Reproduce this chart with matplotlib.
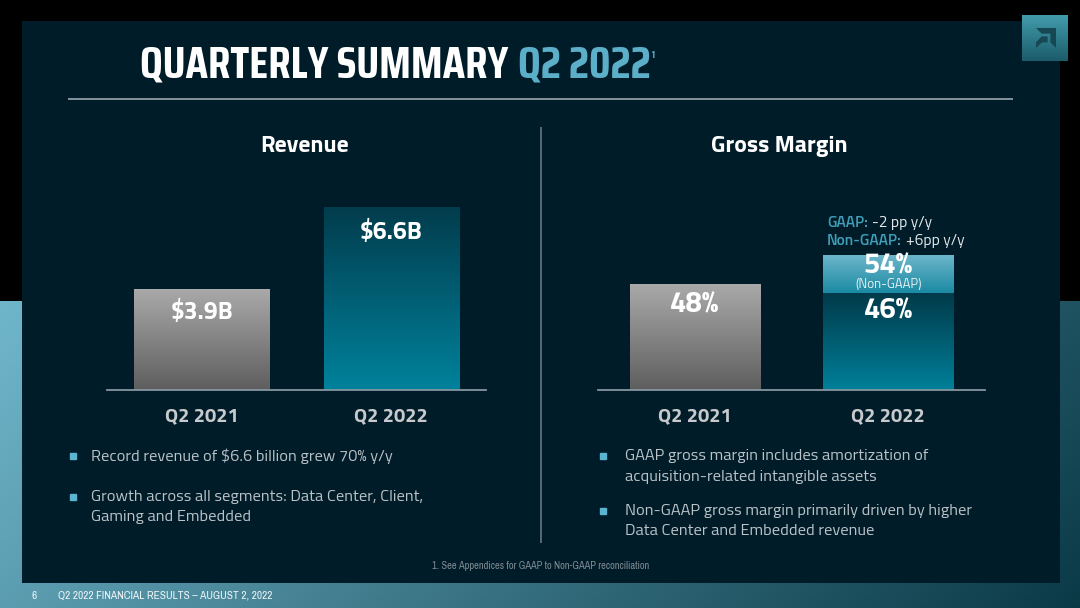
import numpy as np
import matplotlib
matplotlib.use('Agg')
import matplotlib.pyplot as plt
from matplotlib import font_manager as fm
from matplotlib.colors import to_rgb
from matplotlib.patches import Rectangle, Polygon

# ---------------- data ----------------
title_main = 'QUARTERLY SUMMARY'
title_period = 'Q2 2022'
title_note = '1'
rev_title = 'Revenue'
gm_title = 'Gross Margin'
categories = ['Q2 2021', 'Q2 2022']
revenue = [3.9, 6.6]
revenue_labels = ['$3.9B', '$6.6B']
gm_gaap = [48, 46]
gm_gaap_labels = ['48%', '46%']
gm_nongaap = 54
gm_nongaap_label = '54%'
gm_nongaap_note = '(Non-GAAP)'
gm_change_keys = ['GAAP:', 'Non-GAAP:']
gm_change_vals = ['-2 pp y/y', '+6pp y/y']
rev_bullets = [['Record revenue of $6.6 billion grew 70% y/y'],
               ['Growth across all segments: Data Center, Client,', 'Gaming and Embedded']]
gm_bullets = [['GAAP gross margin includes amortization of', 'acquisition-related intangible assets'],
              ['Non-GAAP gross margin primarily driven by higher', 'Data Center and Embedded revenue']]
footnote = '1. See Appendices for GAAP to Non-GAAP reconciliation'
page_number = '6'
footer = 'Q2 2022 FINANCIAL RESULTS \u2013 AUGUST 2, 2022'

# ---------------- fonts ----------------
_avail = {f.name for f in fm.fontManager.ttflist}


def pick(cands):
    fam = [c for c in cands if c in _avail]
    return fam[:1] + ['Roboto', 'DejaVu Sans']


TITLE = pick(['Saira Semi Condensed', 'Saira Condensed', 'Barlow Semi Condensed', 'Roboto Condensed'])
BODY = pick(['Saira Semi Condensed', 'Titillium Web', 'Barlow Semi Condensed', 'Roboto'])
NARROW = pick(['Liberation Sans Narrow', 'Archivo Narrow', 'Arimo', 'Roboto'])
plt.rcParams['font.family'] = BODY

W, H = 1080, 608
fig = plt.figure(figsize=(W / 100, H / 100), dpi=100)
fig.patch.set_facecolor('black')
renderer = fig.canvas.get_renderer()

bg = fig.add_axes([0, 0, 1, 1])
bg.axis('off')


def vgrad(c_top, c_bot, n=256):
    return np.linspace(to_rgb(c_top), to_rgb(c_bot), n).reshape(n, 1, 3)


def fit_size(txt, target, family, weight='normal', base=12.0):
    tt = fig.text(0, 0, txt, fontsize=base, family=family, weight=weight)
    w = tt.get_window_extent(renderer).width
    tt.remove()
    return base * target / w


# bottom band gradient (light blue -> dark teal)
yy, xx = np.mgrid[301:H, 0:W:4]
t = np.clip(0.8 * xx / W + 0.2 * (yy - 301) / (H - 301), 0, 1)[..., None]
c0 = np.array(to_rgb('#70b6cb'))
c1 = np.array(to_rgb('#0a3946'))
band = c0 * (1 - t) + c1 * t
bg.imshow(band, extent=[0, W, H, 301], origin='upper', aspect='auto', zorder=0)

# dark panel
bg.add_patch(Rectangle((22, 21), 1038, 562, facecolor='#011c29', edgecolor='none', zorder=1))

# logo box
bg.imshow(vgrad('#429cac', '#1b5b6a'), extent=[1022, 1068, 61, 15], origin='upper',
          aspect='auto', zorder=2)
outer = [(0.0, 1.0), (1.0, 1.0), (1.0, 0.0), (0.72, 0.28), (0.72, 0.72), (0.28, 0.72)]
inner = [(0.0, 0.28), (0.28, 0.58), (0.58, 0.58), (0.58, 0.28), (0.3, 0.28), (0.0, 0.0)]
for shape in (outer, inner):
    pts = [(1036 + u * 20, 48 - v * 20) for u, v in shape]
    bg.add_patch(Polygon(pts, closed=True, facecolor='#174752', edgecolor='none', zorder=3))

bg.set_xlim(0, W)
bg.set_ylim(H, 0)

# title
fs = fit_size(title_main, 368, TITLE, 'bold', 28)
t1 = bg.text(140, 77, title_main, ha='left', va='baseline', fontsize=fs, weight='bold',
             color='white', family=TITLE, zorder=5)
x_end = 140 + t1.get_window_extent(renderer).width
t2 = bg.text(x_end + 10, 77, title_period, ha='left', va='baseline', fontsize=fs, weight='bold',
             color='#5cafc8', family=TITLE, zorder=5)
x_end2 = x_end + 10 + t2.get_window_extent(renderer).width
bg.text(x_end2 + 1, 51, title_note, ha='left', va='top', fontsize=7, weight='bold',
        color='#5cafc8', family=TITLE, zorder=5)

# rule and divider
bg.plot([68, 1013], [99, 99], color='#8e9ea6', lw=1.3, zorder=4, solid_capstyle='butt')
bg.plot([541, 541], [127, 543], color='#5d717b', lw=1.3, zorder=4, solid_capstyle='butt')

# section headings
hfs = fit_size(gm_title, 136, BODY, 'bold', 16)
bg.text(305, 152, rev_title, ha='center', va='baseline', fontsize=hfs, weight='bold',
        color='white', zorder=5)
bg.text(779, 152, gm_title, ha='center', va='baseline', fontsize=hfs, weight='bold',
        color='white', zorder=5)


def ax_rect(x0, y0, x1, y1):
    return [x0 / W, 1 - y1 / H, (x1 - x0) / W, (y1 - y0) / H]


def gradient_fill(ax, patch, c_top, c_bot, lo):
    x0, w = patch.get_x(), patch.get_width()
    hi = patch.get_y() + patch.get_height()
    lo = max(lo, patch.get_y())
    im = ax.imshow(vgrad(c_top, c_bot), extent=[x0, x0 + w, lo, hi], origin='upper',
                   aspect='auto', interpolation='bilinear', zorder=2)
    im.set_clip_path(patch)


def style_axes(ax):
    ax.set_facecolor('none')
    for s in ('top', 'left', 'right'):
        ax.spines[s].set_visible(False)
    ax.spines['bottom'].set_color('#8796a0')
    ax.spines['bottom'].set_linewidth(1.3)
    ax.spines['bottom'].set_zorder(3)
    ax.set_xticks([])
    ax.set_yticks([])


GRAY = ('#aaaaaa', '#5e5e5e')
TEAL = ('#023c4c', '#00829c')
vfs = fit_size(revenue_labels[0], 63, BODY, 'bold', 17)
pfs = fit_size(gm_gaap_labels[0], 49, BODY, 'bold', 16)
cfs = fit_size(categories[0], 74, BODY, 'bold', 14)
CAT_COLOR = '#c6cacc'

# ---------------- revenue chart ----------------
ax1 = fig.add_axes(ax_rect(107, 190, 486, 390))
style_axes(ax1)
x = np.arange(len(categories))
rlo, rhi = 0.56, 0.56 + 200 / 30.37
bars = ax1.bar(x, revenue, width=0.714, color='none', edgecolor='none')
for b, cols in zip(bars, (GRAY, TEAL)):
    gradient_fill(ax1, b, cols[0], cols[1], rlo)
for i, (v, lbl, off) in enumerate(zip(revenue, revenue_labels, (17, 18.5))):
    ax1.annotate(lbl, xy=(i, v), xytext=(0, -off), textcoords='offset points', ha='center',
                 va='center', color='white', fontsize=vfs, weight='bold', zorder=5)
for i, c in enumerate(categories):
    ax1.annotate(c, xy=(i, rlo), xytext=(0, -18.5), textcoords='offset points', ha='center',
                 va='center', color=CAT_COLOR, fontsize=cfs, weight='bold',
                 annotation_clip=False)
ax1.set_xlim(-0.5, 1.5)
ax1.set_ylim(rlo, rhi)

# ---------------- gross margin chart ----------------
ax2 = fig.add_axes(ax_rect(598, 190, 985, 390))
style_axes(ax2)
glo, ghi = 25.6, 25.6 + 200 / 4.75
gbars = ax2.bar(x, gm_gaap, width=0.674, color='none', edgecolor='none')
gradient_fill(ax2, gbars[0], GRAY[0], GRAY[1], glo)
gradient_fill(ax2, gbars[1], '#013a4a', '#00809a', glo)
cap = ax2.bar([1], [gm_nongaap - gm_gaap[1]], bottom=[gm_gaap[1]], width=0.674,
              color='none', edgecolor='none')[0]
gradient_fill(ax2, cap, '#6db6ca', '#1a8aa3', glo)

ax2.annotate(gm_gaap_labels[0], xy=(0, gm_gaap[0]), xytext=(0, -15), textcoords='offset points',
             ha='center', va='center', color='white', fontsize=pfs, weight='bold', zorder=5)
ax2.annotate(gm_gaap_labels[1], xy=(1, gm_gaap[1]), xytext=(0, -12.5), textcoords='offset points',
             ha='center', va='center', color='white', fontsize=pfs, weight='bold', zorder=5)
ax2.annotate(gm_nongaap_label, xy=(1, gm_nongaap), xytext=(0, -8), textcoords='offset points',
             ha='center', va='center', color='white', fontsize=pfs, weight='bold', zorder=5)
nfs = fit_size(gm_nongaap_note, 66, BODY, 'normal', 8.5)
ax2.annotate(gm_nongaap_note, xy=(1, gm_nongaap), xytext=(0, -21.5), textcoords='offset points',
             ha='center', va='center', color='#e8eef0', fontsize=nfs, zorder=5)
for i, c in enumerate(categories):
    ax2.annotate(c, xy=(i, glo), xytext=(0, -18.5), textcoords='offset points', ha='center',
                 va='center', color=CAT_COLOR, fontsize=cfs, weight='bold',
                 annotation_clip=False)
ax2.set_xlim(-0.5, 1.5)
ax2.set_ylim(glo, ghi)

# y/y change notes
kfs = fit_size(gm_change_keys[1] + ' ' + gm_change_vals[1], 136, BODY, 'normal', 10)
for k, (key, val) in enumerate(zip(gm_change_keys, gm_change_vals)):
    yk = 223 + 18 * k
    tk = bg.text(827, yk, key, ha='left', va='center', fontsize=kfs, weight='semibold',
                 color='#3f9fb9', zorder=5)
    xe = 827 + tk.get_window_extent(renderer).width + 4
    bg.text(xe, yk, val, ha='left', va='center', fontsize=kfs, color='#e4eaec', zorder=5)

# ---------------- bullets ----------------
bfs = fit_size(rev_bullets[0][0], 302, BODY, 'normal', 12)


def draw_bullets(items, x_b, x_t, ys):
    for lines, y0 in zip(items, ys):
        bg.plot([x_b], [y0], marker='s', ms=4.2, color='#5cb4d0', zorder=5, linestyle='none')
        for j, ln in enumerate(lines):
            bg.text(x_t, y0 + 20.5 * j, ln, ha='left', va='center', fontsize=bfs,
                    color='#bac3c7', zorder=5)


draw_bullets(rev_bullets, 73, 91, [456, 497])
draw_bullets(gm_bullets, 603, 625, [456, 510.5])

# ---------------- footnotes ----------------
ffs = fit_size(footnote, 219, NARROW, 'normal', 7)
bg.text(541, 566, footnote, ha='center', va='center', fontsize=ffs, color='#7f8c92',
        family=NARROW, zorder=5)
tfs = fit_size(footer, 214, NARROW, 'normal', 7)
bg.text(31, 596, page_number, ha='left', va='center', fontsize=tfs, color='#eef5f7',
        family=NARROW, zorder=5)
bg.text(58, 596, footer, ha='left', va='center', fontsize=tfs, color='#eef5f7',
        family=NARROW, zorder=5)

fig.savefig('out.png', dpi=100, facecolor='black')
